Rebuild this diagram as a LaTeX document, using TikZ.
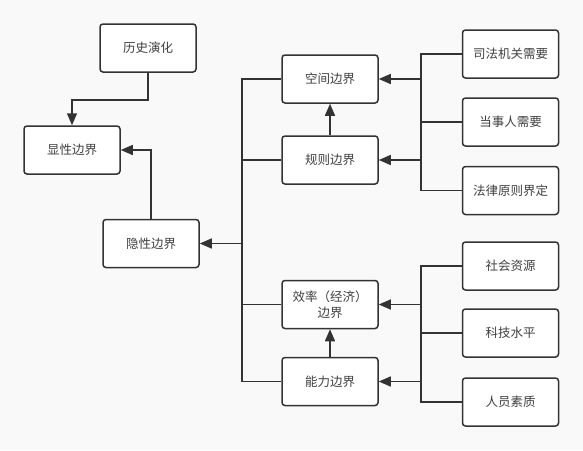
\documentclass[tikz,border=0pt]{standalone}
\usepackage{fontspec}
\setmainfont{Noto Sans CJK SC}
\usepackage{tikz}
\usetikzlibrary{arrows.meta}
\definecolor{bgcol}{HTML}{F9F9F9}
\definecolor{linecol}{HTML}{333333}
\tikzstyle{box}=[draw=linecol, fill=white, rounded corners=3pt, minimum width=96pt, minimum height=48pt, inner sep=2pt, align=center, text=black!75, font=\fontsize{12.5}{16}\selectfont]
\tikzset{arr/.style={-{Triangle[length=12pt,width=10pt]}}}

\begin{document}
\begin{tikzpicture}[x=1pt,y=-1pt,line width=1.5pt,draw=linecol]
    \fill[bgcol] (0,0) rectangle (583,450);
    \useasboundingbox (0,0) rectangle (583,450);
    \coordinate (trunkL) at (242,0);
    \coordinate (trunkR) at (421,0);

    \node[box] (hist) at (148,48) {历史演化};
    \node[box] (xian) at (72,150) {显性边界};
    \node[box] (yin) at (151,243.5) {隐性边界};

    \node[box] (kongjian) at (330,79) {空间边界};
    \node[box] (guize) at (330,160) {规则边界};
    \node[box] (xiaolv) at (330,304.5) {效率（经济）\\边界};
    \node[box] (nengli) at (330,381.5) {能力边界};

    \node[box] (sifa) at (510.5,54) {司法机关需要};
    \node[box] (dangshi) at (510.5,122) {当事人需要};
    \node[box] (falv) at (510.5,190.5) {法律原则界定};
    \node[box] (shehui) at (510.5,266) {社会资源};
    \node[box] (keji) at (510.5,333) {科技水平};
    \node[box] (renyuan) at (510.5,402) {人员素质};

    % left side
    \draw[arr] (hist.south) -- ++(0,27) -| (xian.north);
    \draw[arr] (yin.north) |- (xian.east);
    \draw (kongjian.west) -| (trunkL |- nengli.west) -- (nengli.west);
    \draw (guize.west) -- (guize.west -| trunkL);
    \draw (xiaolv.west) -- (xiaolv.west -| trunkL);
    \draw[arr] (trunkL |- yin.east) -- (yin.east);

    % middle
    \draw[arr] (guize.north) -- (kongjian.south);
    \draw[arr] (nengli.north) -- (xiaolv.south);

    % right side
    \draw (sifa.west) -| (trunkR |- falv.west) -- (falv.west);
    \draw (dangshi.west) -- (dangshi.west -| trunkR);
    \draw[arr] (trunkR |- kongjian.east) -- (kongjian.east);
    \draw[arr] (trunkR |- guize.east) -- (guize.east);
    \draw (shehui.west) -| (trunkR |- renyuan.west) -- (renyuan.west);
    \draw (keji.west) -- (keji.west -| trunkR);
    \draw[arr] (trunkR |- xiaolv.east) -- (xiaolv.east);
    \draw[arr] (trunkR |- nengli.east) -- (nengli.east);
\end{tikzpicture}
\end{document}
